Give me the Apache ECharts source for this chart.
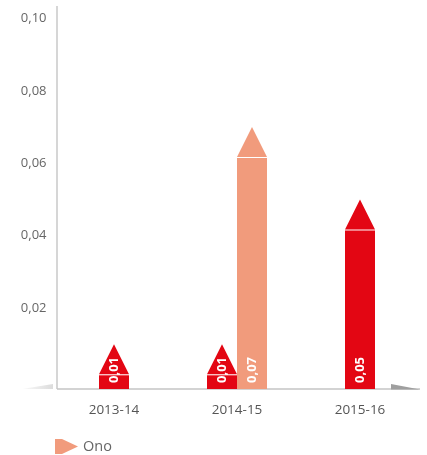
<!DOCTYPE html>
<html>
<head>
<meta charset="utf-8">
<script src="https://cdn.jsdelivr.net/npm/echarts@6/dist/echarts.min.js"></script>
<style>
  html, body { margin: 0; padding: 0; background: #fff; }
  #main { width: 427px; height: 455px; }
</style>
</head>
<body>
<div id="main"></div>
<script>
var categories = ["2013-14", "2014-15", "2015-16"]
var ano = [0.01, 0.01, 0.05]
var ono = [null, 0.07, null]
var yTicks = [0, 0.02, 0.04, 0.06, 0.08, 0.1]

var RED = "#e30613"
var SALMON = "#f19b7c"

function fmt(v) {
  return v.toFixed(2).replace(".", ",")
}

function toData(arr) {
  var out = []
  arr.forEach(function (v, i) {
    if (v != null) out.push([i, v])
  })
  return out
}

function renderItem(params, api) {
  var idx = api.value(0)
  var v = api.value(1)
  var zero = api.coord([idx, 0])
  var tip = api.coord([idx, v])
  var base = zero[1] + 8.5
  var w = 30
  var arrowH = 30
  var other = params.seriesIndex === 0 ? ono[idx] : ano[idx]
  var cx = zero[0]
  if (other != null) cx += params.seriesIndex === 0 ? -w / 2 : w / 2
  var x0 = cx - w / 2
  var color = api.visual("color")
  var shoulder = tip[1] + arrowH
  return {
    type: "group",
    children: [
      {
        type: "rect",
        shape: { x: x0, y: shoulder + 1, width: w, height: base - shoulder - 1 },
        style: { fill: color }
      },
      {
        type: "polygon",
        shape: { points: [[x0, shoulder], [x0 + w, shoulder], [cx, tip[1]]] },
        style: { fill: color }
      },
      {
        type: "text",
        x: cx,
        y: base - 6,
        rotation: Math.PI / 2,
        style: {
          text: fmt(v),
          fill: "#fff",
          font: 'bold 13px "Open Sans"',
          align: "left",
          verticalAlign: "middle"
        }
      }
    ]
  }
}

var chartDom = document.getElementById("main")
var myChart = echarts.init(chartDom)
var option

option = {
  animation: false,
  textStyle: { fontFamily: "Open Sans" },
  grid: {
    left: 52.5,
    width: 369,
    top: 18.5,
    bottom: 74.5
  },
  legend: {
    data: ["Ono"],
    left: 50,
    top: 434,
    itemWidth: 23,
    itemHeight: 15,
    itemGap: 8,
    icon: "path://M0,0 L7,0 L23,7.5 L7,15 L0,15 Z",
    textStyle: { color: "#666", fontSize: 14.5, fontFamily: "Open Sans" }
  },
  xAxis: {
    type: "category",
    data: categories,
    axisLine: { show: false },
    axisTick: { show: false },
    axisLabel: { color: "#555", fontSize: 13.5, margin: 23 }
  },
  yAxis: {
    type: "value",
    min: yTicks[0],
    max: yTicks[yTicks.length - 1],
    interval: 0.02,
    splitLine: { show: false },
    axisLine: { show: false },
    axisLabel: {
      color: "#666",
      fontSize: 13,
      margin: 6,
      formatter: function (v) {
        return v === 0 ? "" : fmt(v)
      }
    }
  },
  graphic: [
    {
      type: "polygon",
      shape: { points: [[22, 389], [53, 389], [53, 384]] },
      style: {
        fill: new echarts.graphic.LinearGradient(0, 0, 1, 0, [
          { offset: 0, color: "#fafafa" },
          { offset: 1, color: "#dcdcdc" }
        ])
      }
    },
    {
      type: "line",
      shape: { x1: 57, y1: 6, x2: 57, y2: 389 },
      style: { stroke: "#d6d6d6", lineWidth: 2 }
    },
    {
      type: "line",
      shape: { x1: 57, y1: 389, x2: 420, y2: 389 },
      style: { stroke: "#c4c4c4", lineWidth: 1.5 }
    },
    {
      type: "polygon",
      shape: { points: [[391, 384], [391, 389.5], [420, 389.5]] },
      style: { fill: "#9f9f9f" }
    }
  ],
  series: [
    {
      name: "Ano",
      type: "custom",
      renderItem: renderItem,
      itemStyle: { color: RED },
      encode: { x: 0, y: 1 },
      data: toData(ano),
      z: 3
    },
    {
      name: "Ono",
      type: "custom",
      renderItem: renderItem,
      itemStyle: { color: SALMON },
      encode: { x: 0, y: 1 },
      data: toData(ono),
      z: 3
    }
  ]
}

option && myChart.setOption(option)
</script>
</body>
</html>
